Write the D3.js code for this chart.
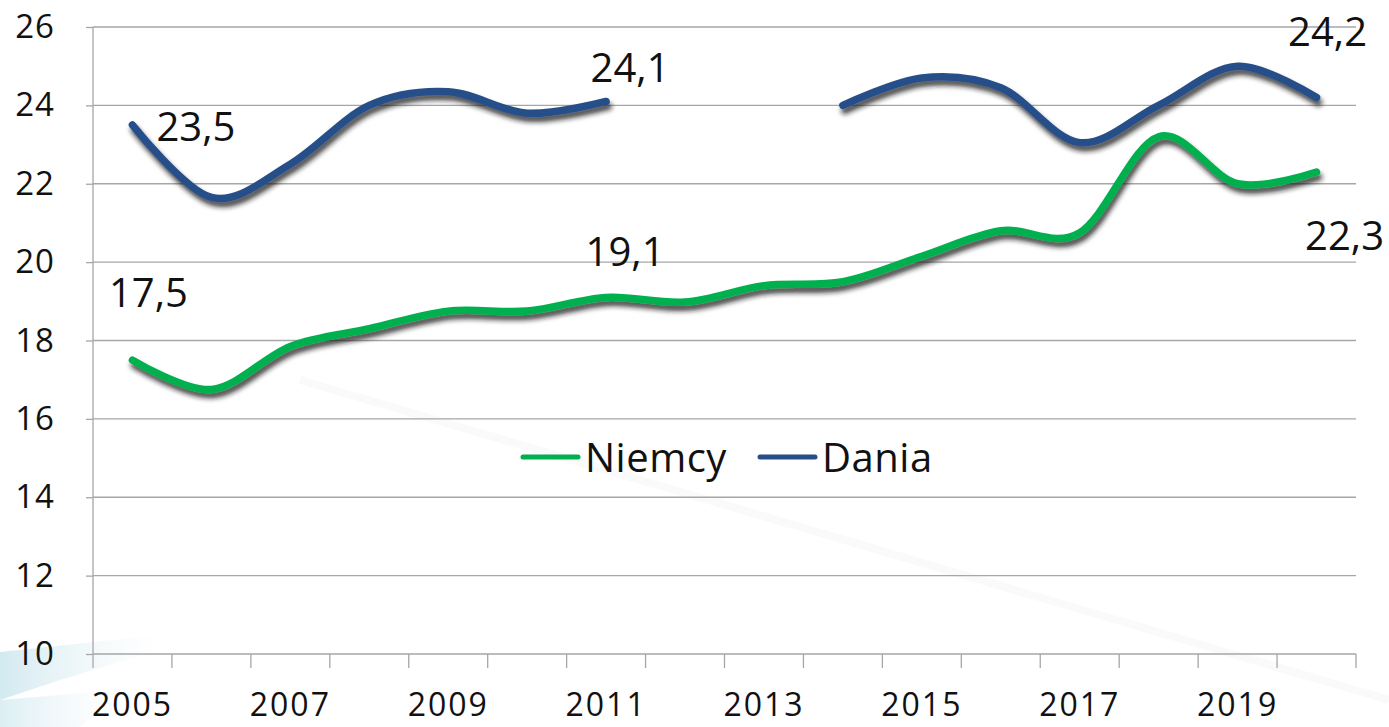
<!DOCTYPE html>
<html>
<head>
<meta charset="utf-8">
<script src="https://cdn.jsdelivr.net/npm/d3@7"></script>
<style>
  html, body { margin: 0; padding: 0; background: #ffffff; }
  svg { display: block; font-family: "Open Sans", "DejaVu Sans", sans-serif; }
</style>
</head>
<body>
<svg id="chart" width="1389" height="727"></svg>
<script>
// ---- data ----
const years = [2005, 2006, 2007, 2008, 2009, 2010, 2011, 2012, 2013, 2014, 2015, 2016, 2017, 2018, 2019, 2020];
const niemcy = [17.5, 16.75, 17.85, 18.3, 18.75, 18.75, 19.1, 18.98, 19.4, 19.5, 20.15, 20.8, 20.75, 23.2, 22.0, 22.3];
const dania  = [23.5, 21.65, 22.5, 24.0, 24.35, 23.8, 24.1, null, null, 24.0, 24.7, 24.45, 23.05, 24.0, 25.0, 24.2];
const yTicks = [10, 12, 14, 16, 18, 20, 22, 24, 26];
const xTickLabels = [2005, 2007, 2009, 2011, 2013, 2015, 2017, 2019];
const seriesNames = ["Niemcy", "Dania"];
// data labels: [series index, year, text]
const dataLabels = [
  [1, 2005, "23,5"], [0, 2005, "17,5"], [0, 2011, "19,1"],
  [1, 2011, "24,1"], [1, 2020, "24,2"], [0, 2020, "22,3"]
];

// ---- layout / style ----
const colors = ["#00B050", "#264F8A"];
const pLeft = 93, pRight = 1356, pTop = 27, pBottom = 654;
const svg = d3.select("#chart");

// background swoosh
const defs = svg.append("defs");
const grad = defs.append("linearGradient").attr("id", "sw").attr("x1", "0").attr("y1", "0").attr("x2", "1").attr("y2", "0");
grad.append("stop").attr("offset", "0").attr("stop-color", "#bfe0ea").attr("stop-opacity", 0.7);
grad.append("stop").attr("offset", "1").attr("stop-color", "#e6f2f6").attr("stop-opacity", 0);
svg.append("path").attr("d", "M0,652 L150,636 L160,650 L60,680 L0,700 Z").attr("fill", "url(#sw)");
svg.append("path").attr("d", "M0,700 L120,690 L80,727 L0,727 Z").attr("fill", "url(#sw)").attr("opacity", 0.8);
svg.append("path").attr("d", "M300,380 L1389,700").attr("stroke", "#fafafa").attr("stroke-width", 8).attr("fill", "none");

const filt = defs.append("filter").attr("id", "shadow").attr("x", "-10%").attr("y", "-30%").attr("width", "120%").attr("height", "160%");
filt.append("feDropShadow").attr("dx", 2).attr("dy", 5).attr("stdDeviation", 2.4)
  .attr("flood-color", "#1a1a1a").attr("flood-opacity", 0.8);

const x = d3.scaleBand().domain(years).range([pLeft, pRight]).paddingInner(0).paddingOuter(0);
const y = d3.scaleLinear().domain([10, 26]).range([pBottom, pTop]);
const cx = v => x(v) + x.bandwidth() / 2;

// gridlines
svg.append("g").selectAll("line").data(yTicks.slice(1)).join("line")
  .attr("x1", pLeft).attr("x2", pRight)
  .attr("y1", d => y(d)).attr("y2", d => y(d))
  .attr("stroke", "#a6a6a6").attr("stroke-width", 1.3);

// y axis
const yAxis = d3.axisLeft(y).tickValues(yTicks).tickSize(7).tickPadding(30).tickFormat(d3.format("d"));
const gy = svg.append("g").attr("transform", `translate(${pLeft},0)`).call(yAxis);
gy.select(".domain").attr("stroke", "#a6a6a6").attr("stroke-width", 1.3).attr("d", `M0,${pBottom}V${pTop}`);
gy.selectAll(".tick line").attr("stroke", "#a6a6a6").attr("stroke-width", 1.3);
gy.selectAll("text").attr("font-size", 33).attr("fill", "#111").attr("x", -38).attr("letter-spacing", 1)
  .style("font-family", "'Open Sans', sans-serif");

// x axis
const boundaries = years.map(d => x(d)).concat([pRight]);
svg.append("line").attr("x1", pLeft).attr("x2", pRight).attr("y1", pBottom).attr("y2", pBottom)
  .attr("stroke", "#a6a6a6").attr("stroke-width", 1.5);
svg.append("g").selectAll("line").data(boundaries).join("line")
  .attr("x1", d => d).attr("x2", d => d).attr("y1", pBottom).attr("y2", pBottom + 14)
  .attr("stroke", "#a6a6a6").attr("stroke-width", 1.3);
svg.append("g").selectAll("text").data(xTickLabels).join("text")
  .attr("x", d => cx(d)).attr("y", 716)
  .attr("text-anchor", "middle").attr("font-size", 32).attr("letter-spacing", 2).attr("fill", "#111")
  .text(d => d);

// lines
const series = [niemcy, dania];
const line = d3.line()
  .defined(d => d[1] != null)
  .x(d => cx(d[0])).y(d => y(d[1]))
  .curve(d3.curveCardinal.tension(0));
series.forEach((vals, i) => {
  svg.append("path")
    .datum(years.map((yr, j) => [yr, vals[j]]))
    .attr("d", line)
    .attr("fill", "none")
    .attr("stroke", colors[i])
    .attr("stroke-width", 7.5)
    .attr("stroke-linecap", "round")
    .attr("stroke-linejoin", "round")
    .attr("filter", "url(#shadow)");
});

// data labels (offsets relative to point)
const labelOffsets = {
  "1-2005": [24, 16, "start"], "0-2005": [16, -53, "middle"], "0-2011": [19, -31, "middle"],
  "1-2011": [24, -19, "middle"], "1-2020": [11, -52, "middle"], "0-2020": [28, 78, "middle"]
};
svg.append("g").selectAll("text").data(dataLabels).join("text")
  .attr("x", d => cx(d[1]) + labelOffsets[d[0] + "-" + d[1]][0])
  .attr("y", d => y(series[d[0]][years.indexOf(d[1])]) + labelOffsets[d[0] + "-" + d[1]][1])
  .attr("text-anchor", d => labelOffsets[d[0] + "-" + d[1]][2])
  .attr("font-size", 40).attr("fill", "#111")
  .text(d => d[2]);

// legend
const legendPos = [[523, 585], [760, 822]];
seriesNames.forEach((name, i) => {
  svg.append("line").attr("x1", legendPos[i][0]).attr("x2", legendPos[i][0] + 55)
    .attr("y1", 457).attr("y2", 457)
    .attr("stroke", colors[i]).attr("stroke-width", 5).attr("stroke-linecap", "round");
  svg.append("text").attr("x", legendPos[i][1]).attr("y", 472)
    .attr("font-size", 40).attr("letter-spacing", 0.5).attr("fill", "#111").text(name);
});
</script>
</body>
</html>
